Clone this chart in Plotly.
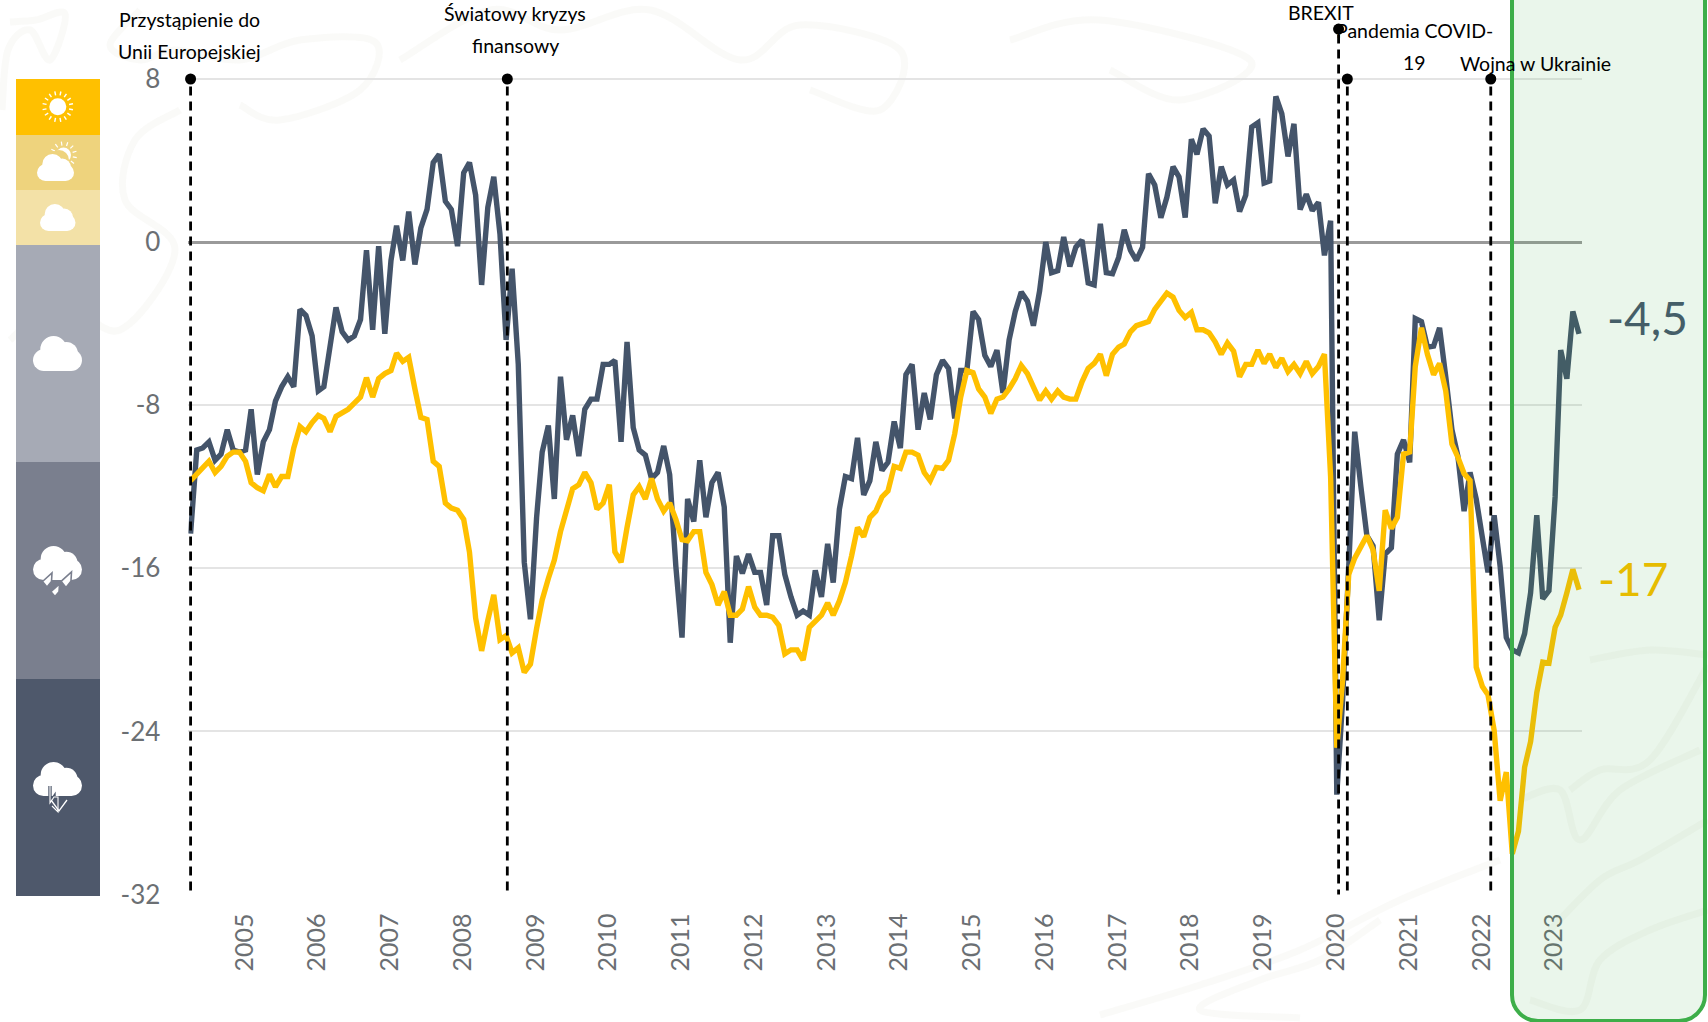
import pandas as pd
import plotly.graph_objects as go
import math

W, H = 1708, 1022
months = pd.date_range("2004-05-01", periods=230, freq="MS")

navy_values = [
 -14.3,-10.2,-10.1,-9.8,-10.7,-10.4,-9.2,-10.2,-10.3,-10.2,-8.2,-11.4,-9.8,-9.2,-7.8,-7.1,-6.6,-7.1,-3.3,-3.6,
 -4.6,-7.3,-7.1,-5.0,-3.2,-4.4,-4.8,-4.6,-3.8,-0.4,-4.3,-0.2,-4.5,-0.9,0.8,-0.9,1.5,-1.1,0.7,1.6,
 3.9,4.3,2.0,1.6,-0.2,3.4,3.9,2.3,-2.1,1.7,3.2,0.4,-4.8,-1.3,-6.0,-15.7,-18.5,-13.5,-10.3,-9.0,
 -12.6,-6.6,-9.7,-8.5,-10.5,-8.2,-7.7,-7.7,-6.0,-6.0,-5.8,-9.8,-4.9,-9.1,-10.2,-10.45,-11.6,-11.3,-10.0,-11.4,
 -15.9,-19.4,-12.6,-13.7,-10.7,-13.5,-11.8,-11.3,-13.0,-19.65,-15.4,-16.25,-15.3,-16.2,-16.2,-17.8,-14.4,-14.4,-16.3,-17.4,
 -18.3,-18.1,-18.3,-16.1,-17.4,-14.8,-16.7,-13.1,-11.5,-11.6,-9.6,-12.4,-11.7,-9.8,-11.2,-10.8,-8.8,-10.1,-6.5,-6.0,
 -9.2,-7.4,-8.7,-6.5,-5.8,-6.2,-8.65,-6.3,-6.3,-3.4,-3.8,-5.55,-6.1,-5.3,-7.4,-4.8,-3.4,-2.45,-2.9,-4.1,
 -2.4,0.0,-1.5,-1.4,0.25,-1.2,-0.25,0.1,-2.0,-2.1,0.9,-1.5,-1.55,-0.75,0.6,-0.4,-0.9,-0.25,3.35,2.8,
 1.2,2.2,3.7,3.2,1.2,5.05,4.3,5.55,5.2,1.9,3.7,2.8,3.05,1.5,2.3,5.65,5.85,2.9,3.0,7.15,
 6.3,4.2,5.8,1.6,2.35,1.55,1.95,-0.65,1.05,-27.1,-22.5,-15.9,-9.3,-12.0,-14.4,-14.9,-18.55,-15.3,-15.0,-10.4,
 -9.7,-10.8,-3.75,-3.9,-5.15,-5.1,-4.2,-6.6,-9.2,-10.5,-13.2,-11.3,-12.6,-14.5,-16.2,-13.4,-15.9,-19.4,-20.0,-20.15,
 -19.2,-17.2,-13.4,-17.5,-17.1,-12.5,-5.3,-6.7,-3.4,-4.5]

yellow_values = [
 -11.7,-11.4,-11.1,-10.75,-11.3,-11.0,-10.5,-10.3,-10.3,-10.75,-11.8,-12.05,-12.2,-11.4,-12.0,-11.5,-11.5,-10.1,-9.05,-9.3,
 -8.85,-8.5,-8.65,-9.3,-8.55,-8.4,-8.2,-7.9,-7.6,-6.65,-7.6,-6.7,-6.45,-6.3,-5.45,-5.85,-5.65,-7.2,-8.6,-8.7,
 -10.75,-11.0,-12.8,-13.05,-13.15,-13.6,-15.2,-18.45,-20.05,-18.55,-17.3,-19.5,-19.3,-20.15,-19.9,-21.1,-20.7,-18.95,-17.55,-16.5,
 -15.6,-14.2,-13.1,-12.1,-11.9,-11.3,-11.8,-13.1,-12.8,-11.9,-15.2,-15.7,-14.0,-12.4,-12.0,-12.6,-11.6,-12.6,-13.2,-12.8,
 -13.6,-14.6,-14.65,-14.2,-14.2,-16.2,-16.8,-17.8,-17.15,-18.3,-18.3,-18.0,-16.9,-17.9,-18.3,-18.3,-18.4,-18.8,-20.2,-20.0,
 -20.0,-20.5,-18.9,-18.6,-18.3,-17.7,-18.3,-17.6,-16.7,-15.4,-14.0,-14.45,-13.5,-13.2,-12.5,-12.2,-11.0,-11.1,-10.3,-10.3,
 -10.45,-11.3,-11.7,-11.05,-11.1,-10.7,-9.4,-7.6,-6.3,-6.4,-7.2,-7.6,-8.4,-7.7,-7.6,-7.2,-6.7,-6.05,-6.45,-7.1,
 -7.75,-7.3,-7.7,-7.3,-7.6,-7.7,-7.7,-6.85,-6.2,-5.95,-5.5,-6.55,-5.5,-5.15,-5.0,-4.4,-4.1,-4.0,-3.9,-3.3,
 -2.85,-2.5,-2.7,-3.35,-3.7,-3.45,-4.3,-4.3,-4.45,-4.9,-5.5,-4.95,-5.35,-6.6,-6.0,-6.0,-5.3,-5.95,-5.5,-6.15,
 -5.7,-6.35,-6.0,-6.45,-5.85,-6.45,-6.1,-5.5,-11.5,-24.8,-21.5,-16.3,-15.5,-14.9,-14.4,-15.1,-17.1,-13.15,-14.05,-13.5,
 -10.4,-10.3,-6.1,-4.2,-5.5,-6.5,-5.95,-7.3,-9.9,-10.55,-11.35,-11.7,-20.85,-21.8,-22.2,-23.95,-27.4,-26.0,-30.0,-28.9,
 -25.75,-24.5,-22.1,-20.6,-20.65,-18.9,-18.3,-17.2,-16.05,-17.05]

y_ticks = [8, 0, -8, -16, -24, -32]
year_labels = list(range(2005, 2024))
event_dates = ["2004-05-01", "2008-09-07", "2020-02-10", "2020-03-25", "2022-03-15"]
event_tops = [8, 8, 10.45, 8, 8]
event_bottoms = [-31.8, -31.8, -32.2, -31.8, -31.8]

NAVY, YELLOW = "#44546A", "#FFC000"
FONT = "Lato"

px = lambda v: v / W
py = lambda v: 1 - v / H
def P(points, close=False):
    s = "M" + " L".join(f"{px(x):.5f},{py(y):.5f}" for x, y in points)
    return s + (" Z" if close else "")

def smooth(points):
    p = [points[0]] + points + [points[-1]]
    s = f"M{px(points[0][0]):.5f},{py(points[0][1]):.5f}"
    for i in range(1, len(p) - 2):
        c1 = (p[i][0] + (p[i+1][0]-p[i-1][0])/6, p[i][1] + (p[i+1][1]-p[i-1][1])/6)
        c2 = (p[i+1][0] - (p[i+2][0]-p[i][0])/6, p[i+1][1] - (p[i+2][1]-p[i][1])/6)
        s += f" C{px(c1[0]):.5f},{py(c1[1]):.5f} {px(c2[0]):.5f},{py(c2[1]):.5f} {px(p[i+1][0]):.5f},{py(p[i+1][1]):.5f}"
    return s

shapes = []
def paper(**k):
    shapes.append(dict(xref="paper", yref="paper", **k))
def rect(x0, y0, x1, y1, color, layer="above"):
    paper(type="rect", x0=px(x0), x1=px(x1), y0=py(y1), y1=py(y0), fillcolor=color, line_width=0, layer=layer)
def circ(cx, cy, r, color, layer="above"):
    paper(type="circle", x0=px(cx-r), x1=px(cx+r), y0=py(cy+r), y1=py(cy-r), fillcolor=color, line_width=0, layer=layer)
def seg(pts, color, w, fill=None):
    paper(type="path", path=P(pts, close=fill is not None), line=dict(color=color, width=w),
          fillcolor=fill if fill else "rgba(0,0,0,0)", layer="above")

# watermark swirls behind the chart
swirl = "rgba(190,180,160,0.07)"
swirls = [
 [(10,22),(36,20),(65,14),(50,60),(30,30),(8,50),(2,110)],
 [(140,10),(110,45),(140,60),(175,50),(240,60),(300,40),(375,42),(360,90),(280,120),(240,105)],
 [(180,110),(135,140),(125,200),(175,250),(120,330),(60,300),(10,340)],
 [(400,60),(490,10),(560,30),(650,10),(740,60),(800,25),(900,50),(880,110),(810,90)],
 [(1010,40),(1100,20),(1250,60),(1180,100),(1110,70)],
 [(1380,920),(1320,960),(1260,980),(1200,1010),(1300,1018)],
 [(1100,1015),(1200,985),(1300,950),(1400,900),(1500,860)],
 [(1590,660),(1650,650),(1708,655)],
 [(1570,790),(1600,770),(1650,760),(1708,665)],
 [(1520,800),(1560,790),(1580,840),(1620,790),(1700,750)],
 [(1550,930),(1600,880),(1640,860),(1708,820)],
 [(1530,1000),(1580,1010),(1600,960),(1650,930),(1708,910)],
]
for s in swirls:
    paper(type="path", path=smooth(s), line=dict(color=swirl, width=7), layer="below")

# weather band at the left
band_edges = [79, 135, 190, 245, 462, 679, 896]
band_colors = ["#FFC000", "#EED37D", "#F3E1A7", "#A6AAB5", "#7A7F8E", "#4E586B"]
for i, c in enumerate(band_colors):
    rect(16, band_edges[i], 100, band_edges[i+1], c)

WHITE = "#FFFFFF"
def cloud(x0, x1, y0, y1):
    w, h = x1 - x0, y1 - y0
    r_end = h * 0.31
    rect(x0 + r_end, y1 - 2*r_end, x1 - r_end, y1, WHITE)
    circ(x0 + r_end, y1 - r_end, r_end, WHITE)
    circ(x1 - r_end, y1 - r_end, r_end, WHITE)
    circ(x0 + w*0.42, y0 + h*0.38, h*0.38, WHITE)
    circ(x0 + w*0.68, y0 + h*0.50, h*0.33, WHITE)

def sun(cx, cy, r, r1, r2, color, n=16, w=1.4):
    for k in range(n):
        a = 2*math.pi*k/n + 0.2
        seg([(cx+r1*math.cos(a), cy+r1*math.sin(a)), (cx+r2*math.cos(a), cy+r2*math.sin(a))], color, w)
    circ(cx, cy, r, color)

sun(57.8, 106.7, 8.5, 11.5, 15.5, WHITE)
sun(63.5, 155, 7.5, 9.5, 13.5, WHITE, n=13, w=1.2)
circ(59, 160, 10, band_colors[1])
cloud(37, 74, 154, 181)
cloud(40, 75.5, 204, 231)
cloud(33, 82, 336, 371)
cloud(33, 82, 546, 580)
for cx, top, r in [(47, 573, 5), (66, 572, 5.5), (55, 584, 4.5)]:
    seg([(cx+r, top), (cx+r*0.9, top+r*1.7), (cx, top+r*2.8), (cx-r*0.9, top+r*1.7)], "#7A7F8E", 1.6, fill=WHITE)
cloud(33, 82, 762, 796)
seg([(50, 786), (50, 803), (54, 797), (54, 807)], "#4E586B", 3.4)
seg([(50, 786), (50, 803), (54, 797), (58, 797), (58, 812), (52, 806)], WHITE, 1.1)
seg([(51, 800), (59, 811), (67, 800)], WHITE, 1.3)

# green highlight panel
x0, x1, yb, r = 1512, 1705, 1021, 26
k = r * 0.45
panel = (f"M{px(x0):.5f},1.02 L{px(x0):.5f},{py(yb-r):.5f} "
         f"C{px(x0):.5f},{py(yb-k):.5f} {px(x0+k):.5f},{py(yb):.5f} {px(x0+r):.5f},{py(yb):.5f} "
         f"L{px(x1-r):.5f},{py(yb):.5f} "
         f"C{px(x1-k):.5f},{py(yb):.5f} {px(x1):.5f},{py(yb-k):.5f} {px(x1):.5f},{py(yb-r):.5f} "
         f"L{px(x1):.5f},1.02")
paper(type="path", path=panel, fillcolor="rgba(60,170,70,0.11)",
      line=dict(color="#3DAE49", width=4), layer="above")

fig = go.Figure()
fig.add_trace(go.Scatter(x=months, y=navy_values, mode="lines", line=dict(color=NAVY, width=5.4), name="navy", showlegend=False))
fig.add_trace(go.Scatter(x=months, y=yellow_values, mode="lines", line=dict(color=YELLOW, width=5.4), name="yellow", showlegend=False))
for d, t, b in zip(event_dates, event_tops, event_bottoms):
    fig.add_trace(go.Scatter(x=[d, d], y=[b, t], mode="lines", cliponaxis=False, showlegend=False,
                             line=dict(color="black", width=2.8, dash="9px,6px")))
    fig.add_trace(go.Scatter(x=[d], y=[t], mode="markers", cliponaxis=False, showlegend=False,
                             marker=dict(color="black", size=11)))

def note(text, xp, yp, size=19.5, color="black"):
    return dict(text=text, xref="paper", yref="paper", x=px(xp), y=py(yp), xanchor="center", yanchor="middle",
                showarrow=False, font=dict(family=FONT, size=size, color=color))

annotations = [
    note("Przystąpienie do", 189.5, 19), note("Unii Europejskiej", 189.5, 51),
    note("Światowy kryzys", 515, 13.5), note("finansowy", 515, 45.5),
    note("BREXIT", 1321, 13),
    note("Pandemia COVID-", 1414, 30.5), note("19", 1414, 62),
    note("Wojna w Ukrainie", 1535.5, 63),
    note("-4,5", 1647, 317, 46, "#455E68"),
    note("-17", 1633, 578, 46, "#E6BC00"),
]

# plot area reaches above y=8 so that the BREXIT pin, set higher than the others, stays inside it
left_edge = 188.4
y_top_value = 10.6
y_top_px = 79 - (y_top_value - 8) * (894.5 - 79) / 40
fig.update_layout(
    width=W, height=H, margin=dict(l=0, r=0, t=0, b=0, autoexpand=False), autosize=False,
    paper_bgcolor="white", plot_bgcolor="rgba(0,0,0,0)", showlegend=False, hovermode=False,
    shapes=shapes, annotations=annotations,
    xaxis=dict(type="date", domain=[px(left_edge), px(1582)], range=["2004-04-20", "2023-06-16"],
               tickmode="array", tickvals=[f"{y}-01-27" for y in year_labels], ticktext=[str(y) for y in year_labels],
               tickangle=-90, showgrid=False, zeroline=False, showline=False, ticks="",
               ticklabelstandoff=13, tickfont=dict(family=FONT, size=25, color="#6B6F73")),
    yaxis=dict(domain=[py(894.5), py(y_top_px)], range=[-32, y_top_value], tickmode="array", tickvals=y_ticks,
               ticktext=[str(v) for v in y_ticks], showgrid=True, gridcolor="#E4E4E4", gridwidth=2,
               zeroline=True, zerolinecolor="#9A9A9A", zerolinewidth=2.5, showline=False, ticks="",
               ticklabelstandoff=27, tickfont=dict(family=FONT, size=26, color="#6B6F73")),
)
fig.write_html("out.html", config={"displayModeBar": False},
               post_script="document.body.style.margin='0';document.documentElement.style.overflow='hidden';")
